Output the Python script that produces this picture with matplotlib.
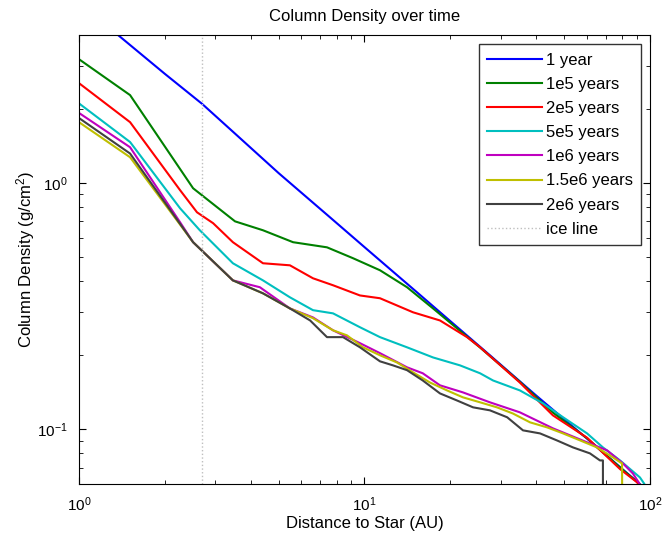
import numpy as np
import matplotlib.pyplot as plt

plt.rcParams['font.family'] = ['Liberation Sans', 'DejaVu Sans']
plt.rcParams['mathtext.fontset'] = 'custom'
plt.rcParams['mathtext.rm'] = 'Liberation Sans'
plt.rcParams['mathtext.it'] = 'Liberation Sans:italic'

# values (AU, g/cm^2)
x_1yr = [1.0, 1.37, 2.0, 2.7, 3.5, 5.0, 7.57, 10.0, 15.0, 20.0, 27.5, 40.0, 60.0, 80.0, 92.0]
y_1yr = [5.5, 4.0, 2.78, 2.1, 1.6, 1.1, 0.727, 0.55, 0.367, 0.275, 0.2, 0.137, 0.092, 0.069, 0.060]

x_1e5 = [1.0, 1.51, 2.51, 3.52, 4.41, 5.62, 7.39, 9.11, 11.33, 14.09, 17.38, 25.4, 35.0, 45.7, 60.2, 78.5, 92.0, 95.0]
y_1e5 = [3.19, 2.28, 0.954, 0.70, 0.644, 0.576, 0.549, 0.496, 0.443, 0.378, 0.310, 0.215, 0.156, 0.117, 0.092, 0.070, 0.060, 0.058]

x_2e5 = [1.0, 1.51, 2.26, 2.59, 2.95, 3.46, 4.41, 5.48, 6.60, 7.76, 9.64, 11.33, 14.79, 18.38,
         22.86, 25.4, 35.0, 45.7, 60.2, 78.5, 90.0, 93.0]
y_2e5 = [2.55, 1.77, 0.937, 0.762, 0.688, 0.576, 0.473, 0.464, 0.411, 0.385, 0.350, 0.341, 0.299, 0.277,
         0.237, 0.2155, 0.155, 0.114, 0.0925, 0.069, 0.061, 0.058]

x_5e5 = [1.0, 1.51, 2.26, 2.65, 3.46, 4.41, 5.48, 6.60, 7.76, 9.64, 11.33, 14.09, 17.38, 21.6, 25.4,
         28.2, 35.0, 42.2, 49.6, 60.2, 68.4, 78.5, 92.2, 95.3]
y_5e5 = [2.11, 1.47, 0.791, 0.644, 0.473, 0.403, 0.344, 0.305, 0.296, 0.260, 0.237, 0.2155, 0.196, 0.182, 0.169,
         0.158, 0.144, 0.1275, 0.112, 0.0963, 0.0845, 0.0748, 0.0638, 0.0603]

x_1e6 = [1.0, 1.51, 2.26, 2.51, 3.46, 4.30, 5.48, 6.60, 7.76, 9.64, 11.33, 14.09, 16.0, 18.38, 22.1,
         27.5, 35.0, 45.7, 60.2, 70.7, 80.4, 87.1, 92.2]
y_1e6 = [1.93, 1.40, 0.694, 0.576, 0.403, 0.378, 0.310, 0.285, 0.2526, 0.224, 0.204, 0.1787, 0.169, 0.151, 0.1414,
         0.1288, 0.1173, 0.101, 0.0886, 0.0822, 0.0727, 0.0662, 0.0598]

x_15e6 = [1.0, 1.51, 2.51, 3.46, 4.41, 5.48, 6.60, 7.76, 8.68, 9.88, 11.33, 13.0, 14.79, 16.96, 19.45,
          22.1, 25.4, 29.1, 33.1, 38.0, 43.6, 49.6, 56.9, 65.2, 74.2, 79.8, 80.4]
y_15e6 = [1.77, 1.275, 0.576, 0.403, 0.357, 0.310, 0.283, 0.2526, 0.241, 0.2155, 0.200, 0.187, 0.1705, 0.155, 0.144,
          0.135, 0.1288, 0.1229, 0.116, 0.1068, 0.1019, 0.0963, 0.0902, 0.0845, 0.0769, 0.0727, 0.01]

x_2e6 = [1.0, 1.51, 2.51, 3.46, 4.41, 5.48, 6.45, 7.39, 8.41, 9.64, 11.33, 12.58, 14.09, 16.0, 18.38,
         21.1, 24.0, 27.5, 31.6, 35.9, 41.2, 47.2, 53.7, 61.6, 66.8, 68.4, 68.5]
y_2e6 = [1.84, 1.32, 0.576, 0.403, 0.357, 0.310, 0.277, 0.237, 0.237, 0.2155, 0.189, 0.182, 0.174, 0.158, 0.140,
         0.131, 0.1229, 0.1195, 0.112, 0.0991, 0.0963, 0.0902, 0.0845, 0.0799, 0.0748, 0.0748, 0.01]

ice_line = 2.7

fig = plt.figure(figsize=(6.62, 5.37), dpi=100)
ax = fig.add_axes([0.1193, 0.0987, 0.8626, 0.8361])

ax.loglog(x_1yr, y_1yr, color=(0, 0, 1), lw=1.5, label='1 year')
ax.loglog(x_1e5, y_1e5, color=(0, 0.5, 0), lw=1.5, label='1e5 years')
ax.loglog(x_2e5, y_2e5, color=(1, 0, 0), lw=1.5, label='2e5 years')
ax.loglog(x_5e5, y_5e5, color=(0, 0.75, 0.75), lw=1.5, label='5e5 years')
ax.loglog(x_1e6, y_1e6, color=(0.75, 0, 0.75), lw=1.5, label='1e6 years')
ax.loglog(x_15e6, y_15e6, color=(0.75, 0.75, 0), lw=1.5, label='1.5e6 years')
ax.loglog(x_2e6, y_2e6, color=(0.25, 0.25, 0.25), lw=1.5, label='2e6 years')
ax.axvline(ice_line, color=(0.75, 0.75, 0.75), lw=1, ls=':', label='ice line')

ax.set_xlim(1, 100)
ax.set_ylim(0.06, 4.0)
ax.tick_params(which='both', direction='in', top=True, right=True, labelsize=11)
ax.tick_params(which='major', length=5)
ax.tick_params(which='minor', length=3)
ax.tick_params(axis='x', pad=8)
ax.tick_params(axis='y', pad=8)

ax.set_title("Column Density over time", fontsize=12, pad=10)
ax.set_xlabel("Distance to Star (AU)", fontsize=12, labelpad=2)
ax.set_ylabel("Column Density (g/cm$^2$)", fontsize=12, labelpad=0)

leg = ax.legend(loc='upper right', fontsize=12, fancybox=False, edgecolor='k',
                handlelength=3.3, handletextpad=0.2, labelspacing=0.55,
                borderaxespad=0.55, borderpad=0.5)
leg.get_frame().set_linewidth(1.0)

fig.savefig("out.png", dpi=100)
